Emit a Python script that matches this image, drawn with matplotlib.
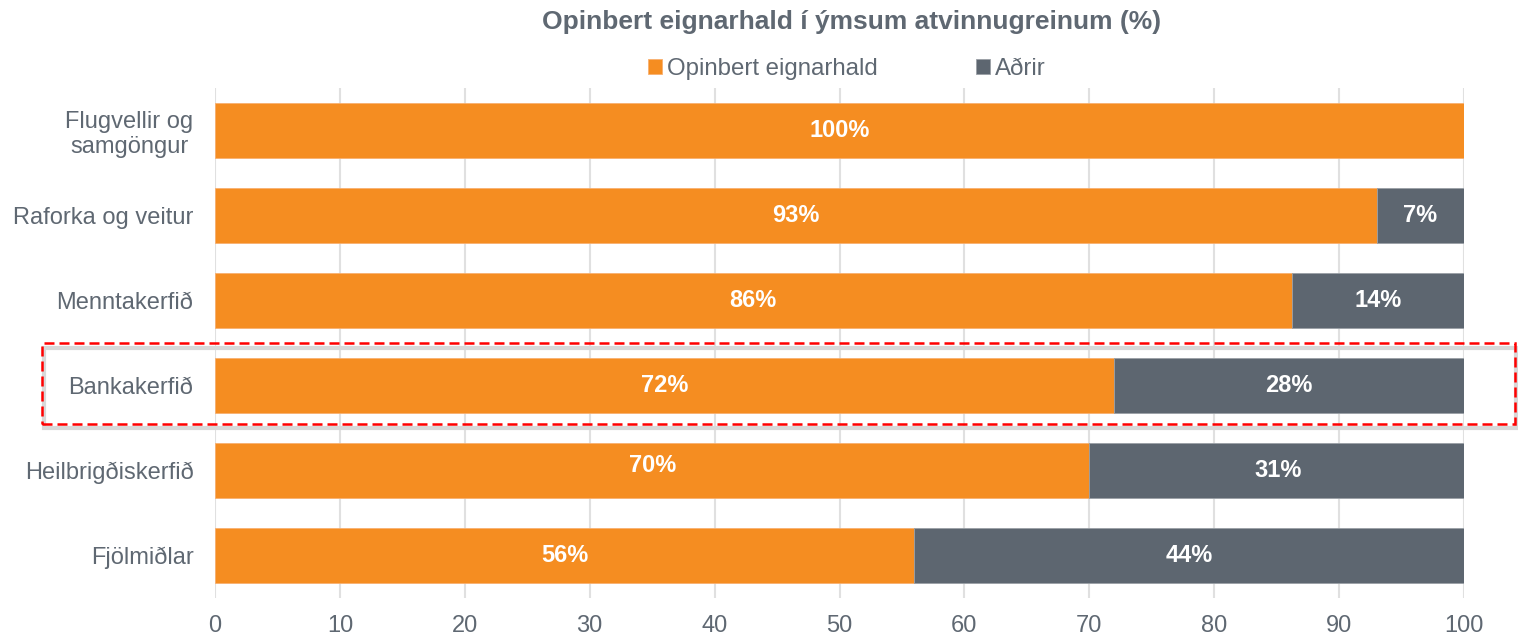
import matplotlib
matplotlib.use('Agg')
import matplotlib.pyplot as plt
import matplotlib.patches as mpatches
import numpy

######## DATA ############
categories = ['Flugvellir og\nsamgöngur', 'Raforka og veitur', 'Menntakerfið',
              'Bankakerfið', 'Heilbrigðiskerfið', 'Fjölmiðlar']
opinbert = [100, 93, 86.2, 72, 70, 56]
adrir = [0, 7, 13.8, 28, 30.2, 44]
opinbertLabels = ['100%', '93%', '86%', '72%', '70%', '56%']
adrirLabels = ['', '7%', '14%', '28%', '31%', '44%']
xTicks = [0, 10, 20, 30, 40, 50, 60, 70, 80, 90, 100]
##############################

orange = '#F58D21'
grey = '#5D6670'
txtGrey = '#5F6872'

plt.rcParams['font.family'] = ['Liberation Sans', 'DejaVu Sans']

fig = plt.figure(figsize=(15.18, 6.38), dpi=100)
ax = fig.add_axes([215/1518, 1-598/638, (1464-215)/1518, (598-88)/638])

yPos = numpy.arange(len(categories))
ax.barh(yPos, opinbert, height=0.645, color=orange, label='Opinbert eignarhald', zorder=3,
        edgecolor='#F8B070', linewidth=0.6)
ax.barh(yPos, adrir, left=opinbert, height=0.645, color=grey, label='Aðrir', zorder=3,
        edgecolor='#9AA0A6', linewidth=0.6)

for i in range(len(categories)):
    dy = -0.06 if i == 4 else 0
    ax.text(opinbert[i]/2, yPos[i] + dy, opinbertLabels[i], ha='center', va='center',
            color='white', fontsize=17, fontweight='bold', zorder=5)
    if adrirLabels[i]:
        ax.text(opinbert[i] + adrir[i]/2, yPos[i], adrirLabels[i], ha='center', va='center',
                color='white', fontsize=17, fontweight='bold', zorder=5)

ax.set_xlim(0, 100)
ax.set_ylim(len(categories) - 0.5, -0.5)
ax.set_xticks(xTicks)
ax.set_yticks(yPos)
ax.set_yticklabels(categories)
ax.tick_params(axis='x', length=0, pad=12, labelsize=17, labelcolor=txtGrey)
ax.tick_params(axis='y', length=0, pad=15.5, labelsize=17, labelcolor=txtGrey)
for lbl in ax.get_yticklabels():
    lbl.set_multialignment('center')
ax.grid(axis='x', color='#E0E0E0', linewidth=1.5, zorder=0)
for s in ax.spines.values():
    s.set_visible(False)

fig.text(852/1518, 1-22/638, 'Opinbert eignarhald í ýmsum atvinnugreinum (%)', ha='center', va='center',
         fontsize=19, fontweight='bold', color=txtGrey)

leg = fig.legend(loc='center', bbox_to_anchor=(847/1518, 1-69/638), ncol=2, frameon=False,
                 fontsize=17.3, handlelength=0.58, handleheight=0.58, handletextpad=0.2,
                 columnspacing=4.1)
for t in leg.get_texts():
    t.set_color(txtGrey)

# highlight box around Bankakerfið
shadow = mpatches.Rectangle((44/1518, 1-428/638), (1516-44)/1518, 80/638, transform=fig.transFigure,
                            fill=False, edgecolor='#D8D8D8', linewidth=3, zorder=1)
fig.patches.append(shadow)
box = mpatches.Rectangle((42/1518, 1-424/638), (1515-42)/1518, 81/638, transform=fig.transFigure,
                         fill=False, edgecolor='#FF0000', linewidth=1.8, linestyle=(0, (4, 2)), zorder=10)
fig.patches.append(box)

plt.savefig('out.png', dpi=100)
